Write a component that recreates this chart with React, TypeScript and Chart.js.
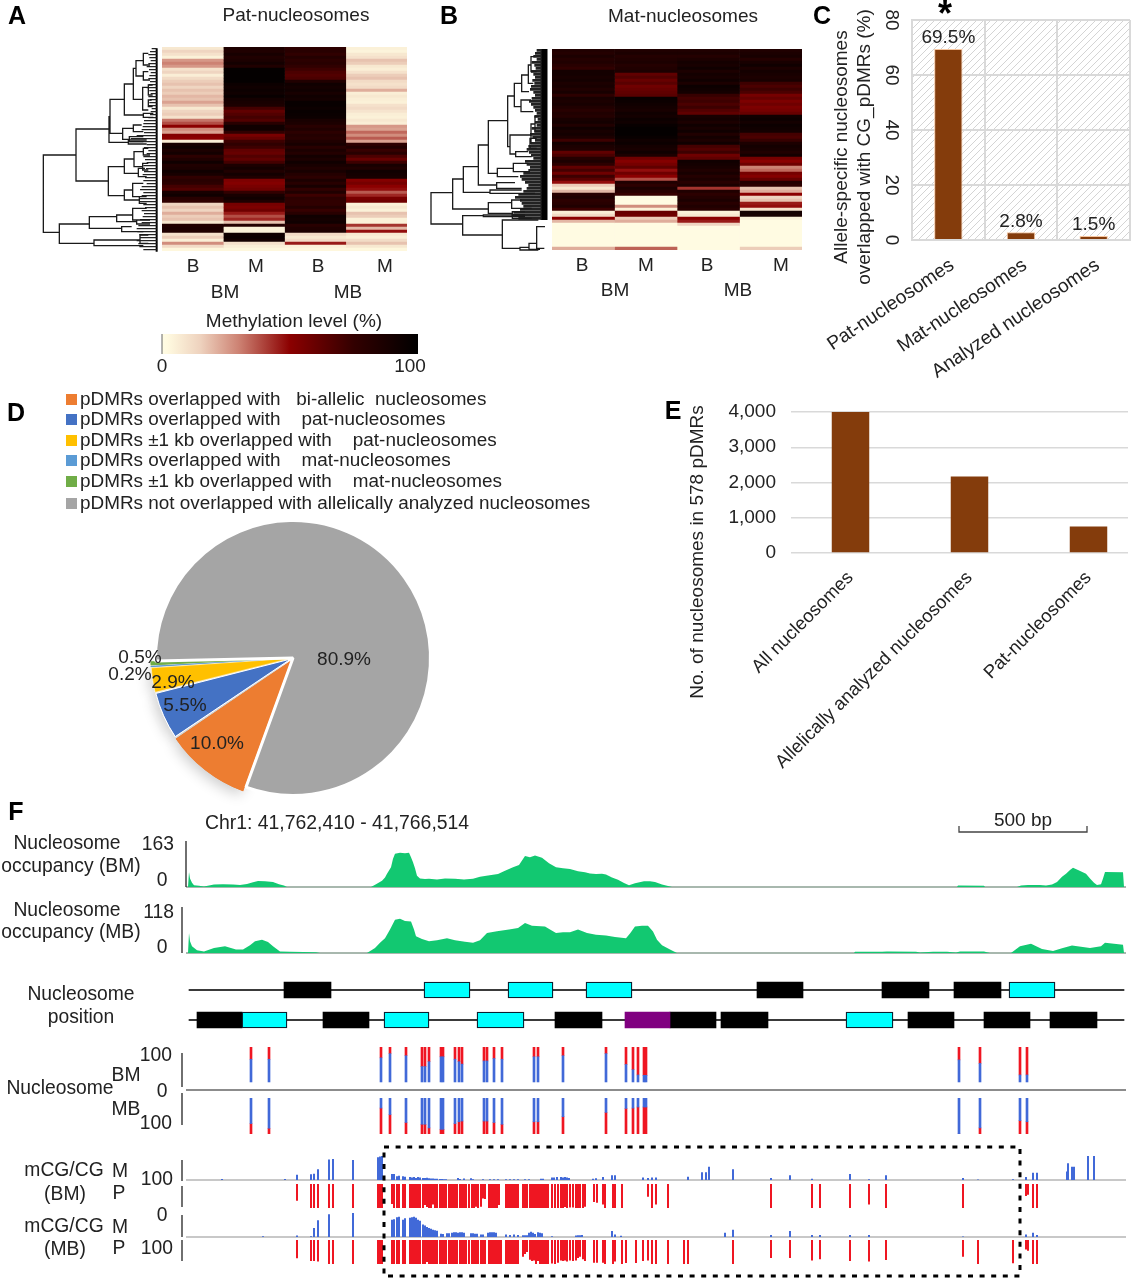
import React, { useEffect, useRef } from "react";
import { Chart, registerables } from "chart.js";

Chart.register(...registerables);

// ---------- Panel A heat map (methylation %, one value per row) ----------
const patBmB = [8,14,10,5,26,30,26,10,14,6,12,16,18,14,18,16,20,18,24,18,8,14,16,10,32,38,50,28,24,52,50,6,88,92,86,90,78,84,92,84,86,92,88,76,80,78,70,66,88,92,80,76,14,18,14,22,16,18,8,84,86,84,10,16,6,28,12,3];
const patBmM = [86,84,88,84,86,90,84,98,98,98,98,98,94,92,94,92,96,90,88,86,70,62,66,70,66,80,92,92,76,55,60,72,76,72,62,60,66,62,70,86,90,84,90,84,54,52,55,58,75,88,92,85,56,54,58,46,38,44,18,82,5,5,92,94,90,10,6,3];
const patMbB = [78,80,76,82,78,80,76,72,68,66,68,84,92,90,92,88,92,90,96,96,94,96,95,94,88,86,80,84,78,82,80,84,88,80,86,82,90,86,92,88,84,88,82,78,86,80,88,76,84,72,78,76,76,82,74,80,92,90,92,80,84,86,12,8,12,46,5,3];
const patMbM = [5,4,8,10,18,16,8,6,10,16,18,12,10,12,22,6,8,6,5,10,12,9,6,5,8,6,26,24,34,28,36,24,78,84,74,80,68,60,72,88,84,92,90,88,52,56,50,48,36,44,55,58,5,8,5,18,16,5,5,42,20,48,8,6,12,18,8,3];

// ---------- Panel B heat map ----------
const matBmB = [84,82,86,82,84,80,76,90,90,88,90,86,88,84,88,78,88,86,88,84,80,84,82,88,90,84,92,88,90,86,72,90,86,84,62,68,82,86,78,62,70,58,72,64,48,16,8,20,80,84,78,80,84,72,6,12,50,20,1,1,1,1,1,1,1,1,22];
const matBmM = [84,86,82,84,86,82,84,86,62,66,60,64,58,60,62,64,96,94,92,90,88,92,90,94,92,96,98,98,98,96,92,94,90,88,92,86,58,52,56,62,48,58,50,38,84,78,86,80,74,1,1,1,28,5,60,58,16,22,1,1,1,1,1,1,1,1,35];
const matMbB = [84,86,82,86,90,88,92,86,90,88,92,86,94,92,90,74,70,72,68,72,66,62,88,90,86,92,88,92,84,90,86,92,70,66,72,58,62,92,90,88,84,88,82,86,80,86,42,84,78,82,86,80,84,80,5,8,50,46,14,1,1,1,1,1,1,1,1];
const matMbM = [84,86,88,82,88,92,86,90,88,86,88,72,68,72,68,56,60,54,58,54,56,60,92,94,90,94,92,90,70,68,74,86,90,88,84,90,56,50,58,30,34,56,52,60,82,78,18,22,50,14,18,46,48,10,90,88,5,1,1,1,1,1,1,1,1,1,16];

// ---------- Dendrograms: [joinHeight, top, bottom, topChildHeight, bottomChildHeight] ----------
const patTree = [[130,465,697,228,178],[228,387,543,327,325],[178,672,730,268,282],[327,350,427,330,385],[330,298,400,373,368],[373,252,345,400,430],[400,205,298,408,428],[408,182,228,430,430],[430,160,195,445,450],[430,215,240,445,450],[428,262,330,445,445],[445,255,285,458,458],[445,300,320,455,458],[430,340,352,460,460],[368,385,418,400,388],[400,375,395,425,430],[388,410,425,430,430],[385,420,432,440,440],[325,500,587,373,373],[373,477,520,402,415],[402,455,500,430,428],[430,445,465,445,450],[428,490,510,445,445],[415,505,530,435,440],[373,570,600,398,418],[398,550,590,430,425],[418,590,610,440,440],[268,650,685,350,365],[350,645,665,398,410],[398,625,660,440,430],[410,660,672,450,450],[365,680,695,395,430],[282,720,737,420,430],[420,705,730,445,445]];
const patLeaves = [455,450,445,448,452,445,440,447,452,448,445,450,446,440,448,452,445,450,448,445,455,452,450,445,432,430,428,425,432,410,392,388,440,432,445,440,430,435,440,430,438,432,428,435,430,440,425,420,430,425,418,420,430,435,425,432,428,420,425,415,410,412,418,420,410,415,418,430];
const matTree = [[18,578,672,83,113],[83,537,627,115,190],[113,647,705,175,232],[115,500,577,160,195],[160,435,555,190,215],[190,362,520,248,217],[248,288,440,268,255],[268,250,320,290,288],[290,225,275,310,312],[310,195,250,318,325],[318,170,215,328,335],[288,300,335,318,325],[255,405,462,318,272],[318,372,430,330,315],[330,350,395,342,345],[315,415,445,335,335],[272,455,470,310,320],[217,505,530,265,280],[265,490,515,310,315],[215,548,565,270,290],[195,570,580,290,330],[190,608,640,260,262],[260,600,625,290,320],[262,635,655,300,320],[175,645,650,300,300],[232,660,745,340,285],[285,742,750,312,340],[312,730,748,335,345],[335,680,745,360,358]];
const matLeaves = [335,330,325,335,320,328,332,318,325,330,322,328,318,315,325,330,320,312,318,325,330,335,328,338,330,335,320,328,315,322,330,318,310,305,312,318,325,300,305,315,310,295,285,290,300,310,305,295,280,270,285,290,295,285,265,260,280];

// ---------- Panels C, D, E ----------
const cCategories = ["Pat-nucleosomes", "Mat-nucleosomes", "Analyzed nucleosomes"];
const cValues = [69.5, 2.8, 1.5];
const dLabels = ["pDMRs overlapped with   bi-allelic  nucleosomes","pDMRs overlapped with    pat-nucleosomes","pDMRs ±1 kb overlapped with    pat-nucleosomes","pDMRs overlapped with    mat-nucleosomes","pDMRs ±1 kb overlapped with    mat-nucleosomes","pDMRs not overlapped with allelically analyzed nucleosomes"];
const dValues = [10.0, 5.5, 2.9, 0.2, 0.5, 80.9];
const dColors = ["#ed7d31", "#4472c4", "#ffc000", "#5b9bd5", "#70ad47", "#a5a5a5"];
const eCategories = ["All nucleosomes", "Allelically analyzed nucleosomes", "Pat-nucleosomes"];
const eValues = [4000, 2170, 750];

// ---------- Panel F: occupancy [position, reads] ----------
const occBM = [[188,0],[189,53],[190,30],[192,15],[194,6],[199,4],[204,2],[209,5],[214,9],[223,10],[233,9],[240,7],[247,11],[253,17],[258,21],[265,20],[273,18],[279,10],[284,5],[287,0],[371,0],[376,10],[382,22],[385,34],[387,47],[391,70],[393,100],[395,118],[400,121],[405,120],[409,121],[411,105],[413,88],[415,66],[417,40],[420,30],[425,28],[429,29],[437,27],[445,30],[455,29],[464,27],[473,29],[480,36],[488,41],[498,46],[505,58],[513,70],[519,78],[525,110],[530,105],[535,112],[542,104],[549,84],[556,70],[563,66],[570,64],[578,56],[585,52],[590,48],[596,46],[602,47],[606,44],[612,34],[618,26],[624,14],[629,6],[635,13],[644,20],[650,20],[655,18],[662,9],[670,2],[672,0],[957,0],[958,5],[984,4],[985,0],[1017,0],[1021,5],[1028,7],[1040,7],[1046,5],[1052,9],[1057,18],[1062,36],[1066,47],[1070,60],[1073,68],[1078,60],[1086,47],[1090,30],[1094,15],[1097,7],[1101,10],[1103,30],[1105,53],[1123,52],[1124,0]];
const occMB = [[188,0],[189,51],[190,30],[192,17],[197,7],[204,4],[214,13],[225,17],[236,9],[243,9],[250,20],[255,30],[262,34],[268,28],[273,17],[280,4],[290,3],[316,2],[320,0],[367,0],[375,13],[380,26],[385,38],[390,60],[395,85],[400,88],[405,82],[411,81],[414,60],[416,43],[422,36],[429,30],[437,33],[447,38],[455,33],[465,29],[473,26],[480,33],[487,51],[497,56],[509,60],[518,64],[525,77],[532,70],[545,68],[550,60],[556,51],[563,53],[570,53],[578,60],[587,51],[596,47],[606,45],[615,41],[626,38],[630,50],[635,68],[642,70],[648,70],[653,55],[657,34],[662,20],[670,9],[677,0],[854,0],[855,3],[882,3],[887,4],[916,3],[920,1],[933,3],[947,3],[956,1],[960,4],[984,4],[990,0],[1011,0],[1020,17],[1031,24],[1042,10],[1053,5],[1062,12],[1072,19],[1090,13],[1101,17],[1105,26],[1123,21],[1124,0]];

// Nucleosome positions [start, end]
const blackUpper = [[284,331],[757,803],[882,929],[954,1001]];
const cyanUpper = [[424,470],[508,553],[586,632],[1009,1055]];
const blackLower = [[197,242],[323,369],[555,602],[670,716],[721,768],[908,954],[984,1030],[1050,1097]];
const cyanLower = [[242,287],[384,429],[477,524],[846,893]];
const purpleLower = [[625,670]];
const nucleosomeSpan = [189, 1124];

// Allelic methylation at nucleosome SNP sites
const snpPos =  [251,269,381,390,406,422,425,429,441,443,455,459,462,484,487,494,502,534,538,563,606,626,633,638,644,646,959,980,1020,1027];
const bmRed =   [35,35,31,19,25,56,56,42,28,28,35,42,49,40,40,33,35,28,28,25,19,50,65,80,81,81,37,47,80,80];
const mbBlue =  [71,84,28,46,68,73,73,83,87,87,71,66,64,64,64,68,73,66,66,52,40,29,28,25,25,25,100,83,63,66];

// mCG/CG tracks
const cgPos = [
  297,311,314,318,329,333,353,378,380,382,
  392,394,397,399,401,403,405,407,410,412,
  414,416,418,420,423,425,427,429,431,433,
  435,437,440,442,444,446,449,451,453,455,
  457,460,462,464,466,469,472,474,476,478,
  481,483,485,487,489,491,493,495,497,499,
  501,506,508,510,512,514,516,518,523,525,
  527,530,532,534,536,538,540,542,544,546,
  548,552,555,558,561,563,565,567,570,573,
  576,578,580,583,585,594,597,603,605,613,
  615,622,626,636,643,648,652,656,668,684,
  688,733,771,790,812,820,850,869,886,963,
  978,1013,1026,1028,1033,1037];
const bmPat = [
  70,100,100,100,100,100,100,100,100,100,
  83,100,100,100,0,100,100,0,100,100,
  100,100,100,100,100,88,96,100,100,85,
  100,100,100,100,100,100,100,100,100,100,
  100,100,100,100,100,100,100,100,95,100,
  95,60,62,0,100,100,100,100,100,88,
  0,100,100,100,100,100,100,100,100,100,
  100,100,100,100,100,100,100,100,100,100,
  100,100,100,100,100,100,96,100,98,98,
  100,100,100,100,95,75,78,85,100,100,
  100,100,0,0,0,53,100,85,100,0,
  0,0,100,0,100,100,100,85,100,100,
  0,0,50,45,100,100];
const mbPat = [
  76,87,87,90,100,100,100,100,100,100,
  100,100,100,100,0,100,100,0,100,100,
  100,100,100,100,100,100,92,100,100,100,
  100,100,100,100,100,100,100,100,100,100,
  100,100,100,100,100,100,100,100,100,100,
  100,100,100,0,100,100,100,100,100,100,
  100,100,100,100,100,100,100,100,70,58,
  50,82,88,85,100,88,100,100,100,100,
  100,98,100,95,85,88,85,90,85,88,
  85,75,70,80,88,95,95,95,100,100,
  90,100,96,96,88,85,100,100,100,100,
  100,100,75,75,85,80,88,90,83,70,
  100,97,40,45,100,100];
const bmMat = [[222,4],[285,4],[297,22],[311,24],[314,26],[318,45],[329,85],[333,87],[353,83],[378,95],[380,98],[382,100],[392,25],[394,25],[397,16],[399,18],[403,16],[405,14],[410,12],[412,10],[414,12],[416,8],[418,12],[420,10],[423,8],[425,8],[427,9],[429,7],[431,6],[433,6],[435,5],[437,5],[440,4],[442,4],[444,3],[446,3],[458,8],[460,4],[464,6],[471,7],[473,3],[483,3],[490,3],[494,3],[498,3],[506,3],[510,3],[514,3],[518,3],[525,3],[529,3],[541,5],[543,5],[552,10],[554,10],[557,12],[561,12],[563,10],[565,12],[567,10],[569,8],[593,5],[596,7],[603,12],[612,20],[615,20],[643,10],[648,8],[652,10],[656,10],[688,14],[702,32],[706,32],[709,55],[733,45],[771,8],[790,20],[812,5],[850,25],[869,3],[886,20],[963,8],[978,2],[1013,3],[1026,12],[1033,30],[1037,30],[1067,35],[1068,70],[1072,55],[1074,55],[1088,100],[1094,100]];
const mbMat = [[263,3],[297,6],[311,3],[314,38],[318,70],[329,95],[353,100],[392,72],[394,74],[397,82],[399,84],[403,72],[405,78],[410,80],[412,82],[414,84],[416,80],[418,72],[420,68],[423,52],[425,48],[427,42],[429,38],[431,34],[433,30],[435,28],[437,26],[441,14],[443,12],[447,16],[449,16],[452,18],[454,20],[456,20],[458,18],[460,20],[462,20],[464,18],[471,16],[473,16],[475,14],[477,14],[481,10],[483,10],[488,18],[490,20],[492,20],[494,20],[496,18],[506,10],[510,8],[514,10],[518,8],[523,7],[525,7],[527,7],[529,18],[531,22],[533,18],[535,12],[538,20],[540,18],[542,16],[552,3],[576,6],[578,7],[580,7],[582,8],[612,25],[615,10],[621,5],[725,18],[733,30],[771,8],[790,25],[812,8],[820,8],[850,8],[869,8],[963,2],[1026,10],[1033,18],[1037,8]];

// ---------- Styling ----------
const FONT = '"Liberation Sans", Arial, sans-serif';
const INK = "#222";
const RED = "#ef1622";
const BLUE = "#4169d8";
const GREEN = "#12c871";
const ramp: [number, number[]][] = [[0,[255,252,228]],[2,[255,250,224]],[15,[238,210,190]],[30,[205,130,115]],[50,[139,0,0]],[75,[50,0,0]],[100,[0,0,0]]];
function heat(v: number) {
  for (let i = 1; i < ramp.length; i++) {
    if (v <= ramp[i][0]) {
      const [a, ca] = ramp[i - 1];
      const [b, cb] = ramp[i];
      const t = (v - a) / (b - a);
      return `rgb(${ca.map((c, k) => Math.round(c + (cb[k] - c) * t)).join(",")})`;
    }
  }
  return "#000";
}

const base = {
  responsive: false,
  maintainAspectRatio: false,
  animation: false,
  events: [],
  plugins: { legend: { display: false }, tooltip: { enabled: false } },
};
const off = (extra = {}) => ({ display: false, ...extra });

function heatmap(cols: number[][]) {
  const labels = cols[0].map((_, i) => `row ${i + 1}`);
  return {
    type: "bar",
    data: {
      labels,
      datasets: cols.map((c) => ({
        data: c.map(() => 1),
        backgroundColor: c.map(heat),
        barPercentage: 1,
        categoryPercentage: 1,
        borderWidth: 0,
      })),
    },
    options: {
      ...base,
      indexAxis: "y",
      scales: {
        x: off({ stacked: true, min: 0, max: 4 }),
        y: off({ stacked: true }),
      },
    },
  };
}

function tree(joins: number[][], leaves: number[], first: number, end: number, step: number, xMin: number, xMax: number, spine: number[], spineW: number, leafW: number) {
  const a: any[] = [];
  const seg = (pts: number[][]) => {
    pts.forEach(([x, y]) => a.push({ x, y }));
    a.push({ x: NaN, y: NaN });
  };
  joins.forEach(([x, t, b, xt, xb]) => seg([[xt, t], [x, t], [x, b], [xb, b]]));
  const f: any[] = [];
  leaves.forEach((s, i) => {
    f.push({ x: s, y: first + step * i }, { x: end, y: first + step * i }, { x: NaN, y: NaN });
  });
  return {
    type: "scatter",
    data: {
      datasets: [
        { data: a, showLine: true, pointRadius: 0, borderColor: "#1a1a1a", borderWidth: 1.3, spanGaps: false },
        { data: f, showLine: true, pointRadius: 0, borderColor: "#222", borderWidth: leafW, spanGaps: false },
        { data: [{ x: spine[0], y: spine[1] }, { x: spine[0], y: spine[2] }], showLine: true, pointRadius: 0, borderColor: "#000", borderWidth: spineW },
      ],
    },
    options: {
      ...base,
      scales: {
        x: off({ type: "linear", min: xMin, max: xMax }),
        y: off({ type: "linear", min: 135, max: 765, reverse: true }),
      },
    },
  };
}

const hatch = {
  id: "hatch",
  beforeDraw(chart: any) {
    const { ctx, chartArea: c } = chart;
    const p = document.createElement("canvas");
    p.width = p.height = 7;
    const g = p.getContext("2d")!;
    g.strokeStyle = "#cfcfcf";
    g.lineWidth = 0.9;
    g.beginPath();
    g.moveTo(0, 7); g.lineTo(7, 0);
    g.moveTo(-3.5, 3.5); g.lineTo(3.5, -3.5);
    g.moveTo(3.5, 10.5); g.lineTo(10.5, 3.5);
    g.stroke();
    ctx.save();
    ctx.fillStyle = ctx.createPattern(p, "repeat");
    ctx.fillRect(c.left, c.top, c.width, c.height);
    ctx.restore();
  },
};
const valueLabels = {
  id: "valueLabels",
  afterDatasetsDraw(chart: any) {
    const { ctx } = chart;
    ctx.save();
    ctx.font = `19px ${FONT}`;
    ctx.fillStyle = INK;
    ctx.textAlign = "center";
    ctx.textBaseline = "middle";
    chart.getDatasetMeta(0).data.forEach((bar: any, i: number) => {
      ctx.fillText(`${cValues[i]}%`, bar.x, bar.y - 11);
    });
    ctx.restore();
  },
};
const sliceShadow = {
  id: "sliceShadow",
  beforeDatasetsDraw(chart: any) {
    const { ctx } = chart;
    ctx.save();
    ctx.shadowColor = "rgba(0,0,0,0.2)";
    ctx.shadowBlur = 14;
    ctx.shadowOffsetX = -3;
    ctx.shadowOffsetY = 4;
    chart.getDatasetMeta(0).data.slice(0, 5).forEach((arc: any) => arc.draw(ctx));
    ctx.restore();
  },
};

const fixedW = (w: number) => (s: any) => { s.width = w; s.paddingTop = 0; s.paddingBottom = 0; };
const fixedH = (h: number) => (s: any) => { s.height = h; s.paddingLeft = 0; s.paddingRight = 0; };
const xTrack = (extra = {}) => off({ type: "linear", min: 186, max: 1126, offset: false, ...extra });
const xLine = (color: string, width: number) => ({
  type: "linear", min: 186, max: 1126, offset: false, stacked: true, display: true,
  ticks: { display: false }, grid: { display: false, drawTicks: false },
  border: { display: true, color, width }, afterFit: fixedH(0),
});

function occupancy(points: number[][], max: number) {
  return {
    type: "line",
    data: {
      datasets: [{
        data: points.map(([x, y]) => ({ x, y })),
        fill: "origin", backgroundColor: GREEN, borderWidth: 0, pointRadius: 0, tension: 0,
      }],
    },
    options: {
      ...base,
      layout: { padding: { bottom: 2 } },
      scales: { x: xLine("#a8b8ae", 2), y: off({ min: 0, max }) },
    },
  };
}

function allelic(first: number[], second: number[], c1: string, c2: string, reverse: boolean, yMin: number, xAxis: any) {
  const bar = { barThickness: 2, borderWidth: 0 };
  return {
    type: "bar",
    data: {
      datasets: [
        { ...bar, backgroundColor: c1, data: snpPos.map((x, i) => ({ x, y: first[i] })) },
        { ...bar, backgroundColor: c2, data: snpPos.map((x, i) => ({ x, y: second[i] })) },
      ],
    },
    options: {
      ...base,
      layout: { padding: { bottom: reverse ? 0 : 2 } },
      scales: { x: xAxis, y: off({ stacked: true, min: yMin, max: 100, reverse }) },
    },
  };
}

function cgBars(data: number[][], color: string, reverse: boolean, axis: boolean) {
  return {
    type: "bar",
    data: {
      datasets: [{ backgroundColor: color, barThickness: 2, borderWidth: 0, inflateAmount: 0, data: data.filter((d) => d[1] > 0).map(([x, y]) => ({ x, y })) }],
    },
    options: {
      ...base,
      layout: { padding: { bottom: axis ? 2 : 0 } },
      scales: { x: axis ? xLine("#c8c8c8", 2) : xTrack({ stacked: true }), y: off({ min: 0, max: 100, reverse }) },
    },
  };
}

function boxDataset(range: number[], row: number, fill: string, outlined: boolean) {
  return {
    data: row === 0 ? [range, null] : [null, range],
    backgroundColor: fill,
    borderColor: outlined ? "#0a2030" : fill,
    borderWidth: outlined ? 1.3 : 0,
    borderSkipped: false,
    barThickness: 16,
    grouped: false,
  };
}

const panels: { left: number; top: number; w: number; h: number; make: () => any }[] = [
  { left: 162, top: 47, w: 245, h: 204, make: () => heatmap([patBmB, patBmM, patMbB, patMbM]) },
  { left: 552, top: 49, w: 250, h: 201, make: () => heatmap([matBmB, matBmM, matMbB, matMbM]) },
  { left: 40, top: 45, w: 120, h: 210, make: () => tree(patTree, patLeaves, 146, 470, 9, 120, 480, [470, 145, 755], 2, 1.1) },
  { left: 425, top: 45, w: 124, h: 210, make: () => tree(matTree, matLeaves, 151, 350, 9, 0, 372, [357, 147, 660], 7, 2.6) },
  {
    left: 162, top: 334, w: 256, h: 20,
    make: () => ({
      type: "bar",
      data: {
        labels: ["Methylation level (%)"],
        datasets: [{
          data: [[0, 100]],
          barPercentage: 1, categoryPercentage: 1, borderWidth: 0,
          backgroundColor(c: any) {
            const a = c.chart.chartArea;
            if (!a) return "#800";
            const g = c.chart.ctx.createLinearGradient(a.left, 0, a.right, 0);
            ramp.forEach(([v]) => g.addColorStop(v / 100, heat(v)));
            return g;
          },
        }],
      },
      options: { ...base, indexAxis: "y", scales: { x: off({ min: 0, max: 100 }), y: off() } },
    }),
  },
  {
    left: 815, top: 0, w: 318, h: 380,
    make: () => ({
      type: "bar",
      data: {
        labels: cCategories,
        datasets: [{ data: cValues, backgroundColor: "#843c0c", borderColor: "#f6c6a0", borderWidth: 1, barPercentage: 0.39, categoryPercentage: 1 }],
      },
      plugins: [hatch, valueLabels],
      options: {
        ...base,
        layout: { padding: { top: 20, right: 3 } },
        scales: {
          x: {
            grid: { color: "#d9d9d9", lineWidth: 2, drawTicks: false },
            border: { color: "#d9d9d9", width: 2 },
            ticks: { color: INK, font: { size: 19.2, family: FONT }, minRotation: 34, maxRotation: 34, autoSkip: false, labelOffset: 4, padding: 14 },
            afterFit: fixedH(140),
          },
          y: {
            min: 0, max: 80,
            grid: { color: "#d9d9d9", lineWidth: 2, drawTicks: false },
            border: { color: "#d9d9d9", width: 2 },
            ticks: { stepSize: 20, color: INK, font: { size: 19, family: FONT }, minRotation: -90, maxRotation: -90, crossAlign: "center", padding: 10 },
            afterFit: fixedW(97),
          },
        },
      },
    }),
  },
  {
    left: 127, top: 492, w: 332, h: 332,
    make: () => ({
      type: "pie",
      data: {
        labels: dLabels,
        datasets: [{ data: dValues, backgroundColor: dColors, borderColor: "#fff", borderWidth: [0, 1, 0.5, 0, 0, 3], offset: [14, 10, 10, 10, 10, 0] }],
      },
      plugins: [sliceShadow],
      options: { ...base, rotation: 200, layout: { padding: 20 } },
    }),
  },
  {
    left: 690, top: 400, w: 458, h: 380,
    make: () => ({
      type: "bar",
      data: {
        labels: eCategories,
        datasets: [{ data: eValues, backgroundColor: "#843c0c", barPercentage: 0.315, categoryPercentage: 1 }],
      },
      options: {
        ...base,
        layout: { padding: { top: 12 } },
        scales: {
          x: {
            grid: { display: false, drawTicks: false },
            border: { display: false },
            ticks: { color: INK, font: { size: 18.5, family: FONT }, minRotation: 45, maxRotation: 45, autoSkip: false, labelOffset: 0, padding: 14 },
            afterFit: fixedH(227),
          },
          y: {
            min: 0, max: 4000,
            grid: { color: "#d9d9d9", lineWidth: 1.5, drawTicks: false },
            border: { display: false },
            ticks: { stepSize: 1000, color: INK, font: { size: 19, family: FONT }, padding: 15, callback: (v: number) => v.toLocaleString("en-US") },
            afterFit: fixedW(101),
          },
        },
      },
    }),
  },
  { left: 186, top: 841, w: 940, h: 48, make: () => occupancy(occBM, 163) },
  { left: 186, top: 907, w: 940, h: 48, make: () => occupancy(occMB, 118) },
  {
    left: 186, top: 975, w: 940, h: 60,
    make: () => ({
      type: "bar",
      data: {
        labels: ["upper", "lower"],
        datasets: [
          ...blackUpper.map((r) => boxDataset(r, 0, "#000", false)),
          ...cyanUpper.map((r) => boxDataset(r, 0, "#00ffff", true)),
          ...cyanLower.map((r) => boxDataset(r, 1, "#00ffff", true)),
          ...purpleLower.map((r) => boxDataset(r, 1, "#800080", false)),
          ...blackLower.map((r) => boxDataset(r, 1, "#000", false)),
          { data: [nucleosomeSpan, nucleosomeSpan], backgroundColor: "#3a3a3a", barThickness: 1.5, grouped: false, borderWidth: 0 },
        ],
      },
      options: { ...base, indexAxis: "y", scales: { x: xTrack(), y: off() } },
    }),
  },
  { left: 186, top: 1047, w: 940, h: 45, make: () => allelic(bmRed.map((r) => 100 - r), bmRed, BLUE, RED, false, -23, xLine("#8c8c8c", 2)) },
  { left: 186, top: 1098, w: 940, h: 36, make: () => allelic(mbBlue, mbBlue.map((b) => 100 - b), BLUE, RED, true, 0, xTrack({ stacked: true })) },
  { left: 186, top: 1156, w: 940, h: 26, make: () => cgBars(bmMat, BLUE, false, true) },
  { left: 186, top: 1184, w: 940, h: 24, make: () => cgBars(cgPos.map((x, i) => [x, bmPat[i]]), RED, true, false) },
  { left: 186, top: 1213, w: 940, h: 26, make: () => cgBars(mbMat, BLUE, false, true) },
  { left: 186, top: 1240, w: 940, h: 24, make: () => cgBars(cgPos.map((x, i) => [x, mbPat[i]]), RED, true, false) },
];

type Tx = [string, number, number, ("l" | "c" | "r")?, number?, number?, number?];
// text, x, y, anchor, size, weight, rotation
const texts: Tx[] = [
  ["A", 17, 15, "c", 25, 700], ["B", 449, 15, "c", 25, 700], ["C", 822, 15, "c", 25, 700],
  ["D", 16, 412, "c", 25, 700], ["E", 673, 410, "c", 25, 700], ["F", 16, 811, "c", 25, 700],
  ["Pat-nucleosomes", 296, 14],
  ["B", 193, 265], ["M", 256, 265], ["B", 318, 265], ["M", 385, 265],
  ["BM", 225, 291], ["MB", 348, 291],
  ["Methylation level (%)", 294, 320],
  ["0", 162, 365], ["100", 410, 365],
  ["Mat-nucleosomes", 683, 15],
  ["B", 582, 264], ["M", 646, 264], ["B", 707, 264], ["M", 781, 264],
  ["BM", 615, 289], ["MB", 738, 289],
  ["Allele-specific nucleosomes", 840, 147, "c", 19, 400, -90],
  ["overlapped with CG_pDMRs (%)", 863, 147, "c", 19, 400, -90],
  ["*", 945, 14, "c", 36, 700],
  ["No. of nucleosomes in 578 pDMRs", 696, 552, "c", 19, 400, -90],
  ["80.9%", 344, 658], ["10.0%", 217, 742], ["5.5%", 185, 704], ["2.9%", 173, 681], ["0.2%", 130, 673], ["0.5%", 140, 656],
  ["Chr1: 41,762,410 - 41,766,514", 205, 823, "l", 19.4],
  ["500 bp", 1023, 819],
  ["Nucleosome", 67, 843, "c", 19.3], ["occupancy (BM)", 71, 866, "c", 19.3], ["163", 174, 844, "r", 19.3], ["0", 162, 880, "c", 19.3],
  ["Nucleosome", 67, 910, "c", 19.3], ["occupancy (MB)", 71, 932, "c", 19.3], ["118", 174, 912, "r", 19.3], ["0", 162, 947, "c", 19.3],
  ["Nucleosome", 81, 994, "c", 19.3], ["position", 81, 1017, "c", 19.3],
  ["100", 172, 1055, "r", 19.3], ["BM", 126, 1075, "c", 19.3], ["Nucleosome", 60, 1088, "c", 19.3], ["0", 162, 1091, "c", 19.3], ["MB", 126, 1109, "c", 19.3], ["100", 172, 1123, "r", 19.3],
  ["mCG/CG", 64, 1170, "c", 19.3], ["M", 120, 1171, "c", 19.3], ["100", 173, 1179, "r", 19.3], ["(BM)", 65, 1194, "c", 19.3], ["P", 119, 1193, "c", 19.3],
  ["0", 162, 1215, "c", 19.3], ["mCG/CG", 64, 1226, "c", 19.3], ["M", 120, 1227, "c", 19.3], ["(MB)", 65, 1249, "c", 19.3], ["P", 119, 1248, "c", 19.3], ["100", 173, 1248, "r", 19.3],
];
const legendY = [399, 419, 440, 460, 481, 503];
const axisLines = [
  [186, 841, 887], [182, 907, 953], [182, 1053, 1087], [182, 1093, 1125],
  [182, 1160, 1181], [182, 1186, 1207], [182, 1215, 1237], [182, 1240, 1261],
];

export default function App() {
  const canvases = useRef<(HTMLCanvasElement | null)[]>([]);
  useEffect(() => {
    Chart.defaults.font.family = FONT;
    const charts = panels.map((p, i) => new Chart(canvases.current[i] as any, p.make()));
    return () => charts.forEach((c) => c.destroy());
  }, []);
  return (
    <div style={{ position: "absolute", left: 0, top: 0, width: 1133, height: 1280, overflow: "hidden", background: "#fff", fontFamily: FONT, color: INK }}>
      {panels.map((p, i) => (
        <canvas
          key={i}
          ref={(el) => { canvases.current[i] = el; }}
          width={p.w}
          height={p.h}
          style={{ position: "absolute", left: p.left, top: p.top, width: p.w, height: p.h }}
        />
      ))}
      <div style={{ position: "absolute", left: 1128, top: 405, width: 5, height: 155, background: "#fff" }} />
      <svg width={1133} height={1280} style={{ position: "absolute", left: 0, top: 0 }}>
        {axisLines.map(([x, a, b], i) => (
          <line key={i} x1={x} x2={x} y1={a} y2={b} stroke="#222" strokeWidth={1.3} />
        ))}
        <line x1={162} x2={162} y1={334} y2={354} stroke="#666" strokeWidth={1} />
        <path d="M959 826V832H1087V826" fill="none" stroke="#444" strokeWidth={1.3} />
        <rect x={384} y={1147} width={636} height={129} fill="none" stroke="#000" strokeWidth={3} strokeDasharray="5 6.6" />
      </svg>
      {dLabels.map((t, i) => (
        <React.Fragment key={t}>
          <div style={{ position: "absolute", left: 66, top: legendY[i] - 5.5, width: 11, height: 11, background: dColors[i] }} />
          <div style={{ position: "absolute", left: 80, top: legendY[i], transform: "translateY(-50%)", fontSize: 18.9, whiteSpace: "pre", lineHeight: 1 }}>{t}</div>
        </React.Fragment>
      ))}
      {texts.map(([t, x, y, a = "c", size = 19, weight = 400, rot = 0], i) => (
        <div
          key={i}
          style={{
            position: "absolute", left: x, top: y, fontSize: size, fontWeight: weight, lineHeight: 1, whiteSpace: "nowrap",
            color: weight === 700 ? "#000" : INK,
            transform: `translate(${a === "l" ? "0" : a === "r" ? "-100%" : "-50%"},-50%) rotate(${rot}deg)`,
          }}
        >
          {t}
        </div>
      ))}
    </div>
  );
}
